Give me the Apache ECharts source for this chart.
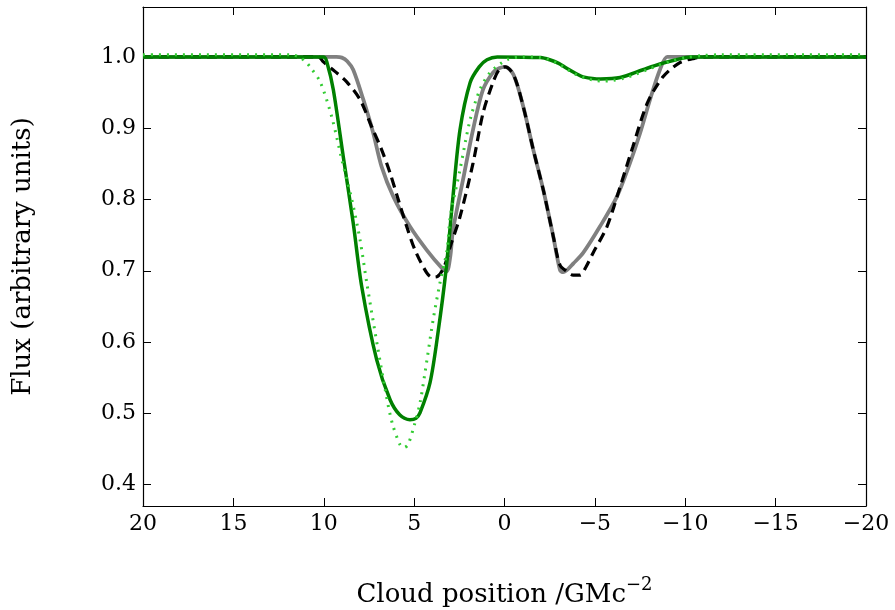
<!DOCTYPE html>
<html>
<head>
<meta charset="utf-8">
<script src="https://cdn.jsdelivr.net/npm/echarts@6/dist/echarts.min.js"></script>
<style>
  html, body { margin: 0; padding: 0; background: #fff; }
  #chart { width: 895px; height: 610px; }
</style>
</head>
<body>
<div id="chart"></div>
<script>
const grayX = [20, 9.3, 9.0, 8.7, 8.37, 7.81, 7.26, 6.8, 6.15, 5.23, 4.3, 3.47, 3.2, 3.0, 2.85, 2.3, 1.74, 1.19, 0.64, 0.3, -0.03, -0.5, -1.04, -1.59, -2.15, -2.7, -3.07, -3.25, -3.5, -3.8, -4.35, -5.28, -6.22, -6.94, -7.5, -8.05, -8.6, -9.0, -9.3, -20];
const grayY = [1.0, 1.0, 0.999, 0.994, 0.982, 0.94, 0.893, 0.846, 0.804, 0.762, 0.729, 0.704, 0.699, 0.72, 0.757, 0.827, 0.898, 0.954, 0.978, 0.984, 0.986, 0.975, 0.930, 0.870, 0.813, 0.748, 0.701, 0.698, 0.702, 0.71, 0.725, 0.762, 0.804, 0.851, 0.893, 0.94, 0.982, 1.0, 1.0, 1.0];

const dashX = [20, 10.3, 10.02, 9.4, 8.73, 7.99, 7.35, 6.8, 6.33, 5.88, 5.41, 4.95, 4.3, 4.0, 3.7, 3.3, 3.0, 2.46, 1.74, 1.19, 0.64, 0.3, -0.03, -0.5, -1.04, -1.59, -2.15, -2.7, -3.07, -3.46, -3.8, -4.18, -4.5, -4.9, -5.67, -6.4, -7.1, -7.9, -8.77, -9.7, -10.5, -11.2, -20];
const dashY = [1.0, 1.0, 0.993, 0.98, 0.965, 0.94, 0.902, 0.870, 0.837, 0.80, 0.762, 0.729, 0.697, 0.691, 0.692, 0.708, 0.734, 0.776, 0.851, 0.921, 0.964, 0.982, 0.986, 0.975, 0.930, 0.870, 0.813, 0.748, 0.708, 0.699, 0.694, 0.694, 0.705, 0.725, 0.762, 0.818, 0.874, 0.935, 0.972, 0.992, 0.998, 1.0, 1.0];

const greenX = [20, 10.0, 9.8, 9.47, 8.92, 8.37, 7.9, 7.07, 6.33, 5.8, 5.23, 4.9, 4.67, 4.12, 3.68, 3.24, 2.85, 2.46, 1.9, 1.4, 0.97, 0.4, -2.0, -2.5, -3.0, -3.44, -4.0, -4.35, -5.3, -6.4, -7.66, -8.6, -9.5, -10.3, -20];
const greenY = [1.0, 1.0, 0.99, 0.954, 0.86, 0.767, 0.678, 0.575, 0.519, 0.498, 0.491, 0.493, 0.501, 0.543, 0.613, 0.70, 0.804, 0.898, 0.964, 0.986, 0.996, 1.0, 0.999, 0.996, 0.991, 0.984, 0.976, 0.972, 0.969, 0.971, 0.982, 0.99, 0.996, 1.0, 1.0];

const dotX = [20, 11.8, 11.3, 11.0, 10.76, 10.2, 9.56, 9.0, 8.45, 7.99, 7.62, 7.0, 6.6, 6.22, 5.78, 5.56, 5.34, 4.95, 4.67, 4.29, 3.95, 3.57, 3.18, 3.0, 2.46, 1.9, 1.36, 0.8, -0.14, -1.0, -2.0, -2.5, -3.0, -3.5, -4.0, -4.5, -5.0, -5.5, -6.0, -6.6, -7.2, -7.8, -8.5, -9.2, -10.0, -11.0, -12.0, -20];
const dotY = [1.003, 1.003, 0.999, 0.993, 0.986, 0.965, 0.916, 0.856, 0.80, 0.743, 0.683, 0.590, 0.533, 0.487, 0.456, 0.452, 0.456, 0.487, 0.515, 0.575, 0.631, 0.683, 0.729, 0.776, 0.842, 0.912, 0.954, 0.978, 0.996, 1.0, 0.999, 0.996, 0.99, 0.982, 0.975, 0.97, 0.967, 0.966, 0.967, 0.97, 0.975, 0.981, 0.988, 0.994, 0.999, 1.002, 1.003, 1.003];

const xMin = -20, xMax = 20, xStep = 5;
const yMin = 0.37, yMax = 1.07, yStep = 0.1;

function pairs(xs, ys) {
  return xs.map((x, i) => [x, ys[i]]);
}

const font = 'DejaVu Serif';
const labelSize = 22;
const titleSize = 26;

const chart = echarts.init(document.getElementById('chart'), null, {renderer: 'canvas'});

const tick = {show: true, inside: true, length: 8, lineStyle: {color: '#000', width: 1}};
const line = {show: true, onZero: false, lineStyle: {color: '#000', width: 1.2}};
const smooth = 0.3;

const option = {
  animation: false,
  grid: {left: 143, top: 7, right: 29, bottom: 104, containLabel: false, outerBoundsMode: 'none'},
  xAxis: [
    {
      type: 'value', min: xMin, max: xMax, interval: xStep, inverse: true,
      axisLine: line, axisTick: tick, splitLine: {show: false},
      axisLabel: {
        fontFamily: font, fontSize: labelSize, color: '#000', margin: 7,
        formatter: v => String(v).replace('-', '\u2212')
      },
      name: 'Cloud position /GMc{sup|\u22122}',
      nameLocation: 'middle', nameGap: 70,
      nameTextStyle: {
        fontFamily: font, fontSize: titleSize, color: '#000',
        rich: {sup: {fontFamily: font, fontSize: 18, color: '#000', padding: [0, 0, 20, 0]}}
      }
    },
    {
      type: 'value', position: 'top', min: xMin, max: xMax, interval: xStep, inverse: true,
      axisLine: line, axisTick: tick, axisLabel: {show: false}, splitLine: {show: false}
    }
  ],
  yAxis: [
    {
      type: 'value', min: yMin, max: yMax, minInterval: yStep, maxInterval: yStep,
      axisLine: line, axisTick: tick, splitLine: {show: false},
      axisLabel: {
        fontFamily: font, fontSize: labelSize, color: '#000', margin: 7,
        showMinLabel: false, showMaxLabel: false,
        formatter: v => v.toFixed(1)
      },
      name: 'Flux (arbitrary units)',
      nameLocation: 'middle', nameGap: 107,
      nameTextStyle: {fontFamily: font, fontSize: titleSize, color: '#000'}
    },
    {
      type: 'value', position: 'right', min: yMin, max: yMax, minInterval: yStep, maxInterval: yStep,
      axisLine: line, axisTick: tick, axisLabel: {show: false}, splitLine: {show: false}
    }
  ],
  series: [
    {
      name: 'gray', type: 'line', data: pairs(grayX, grayY), showSymbol: false, smooth: smooth,
      lineStyle: {color: '#808080', width: 3.8}
    },
    {
      name: 'dashed', type: 'line', data: pairs(dashX, dashY), showSymbol: false, smooth: smooth,
      lineStyle: {color: '#000', width: 3.2, type: [10, 6]}
    },
    {
      name: 'green', type: 'line', data: pairs(greenX, greenY), showSymbol: false, smooth: smooth,
      lineStyle: {color: '#008000', width: 3.5}
    },
    {
      name: 'dotted', type: 'line', data: pairs(dotX, dotY), showSymbol: false, smooth: smooth,
      lineStyle: {color: '#33cc33', width: 3, type: [2, 6]}
    }
  ]
};
option && chart.setOption(option);
</script>
</body>
</html>
